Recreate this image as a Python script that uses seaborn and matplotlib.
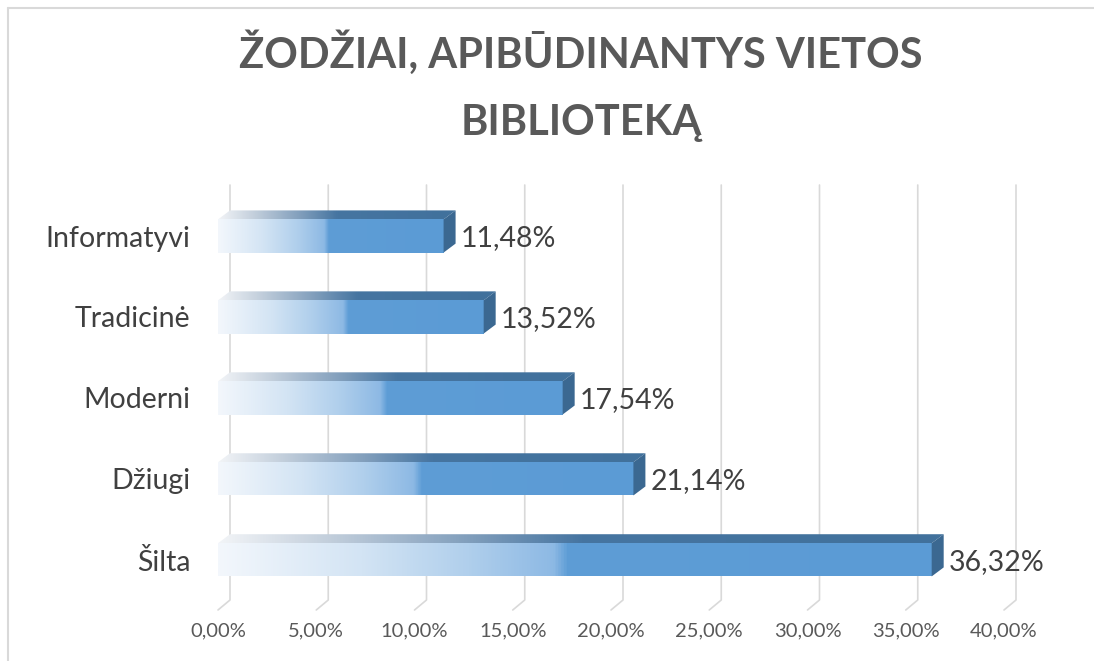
import numpy as np
import pandas as pd
import matplotlib
matplotlib.use("Agg")
import matplotlib.pyplot as plt
import seaborn as sns
from matplotlib.patches import Polygon
from matplotlib.lines import Line2D
from matplotlib.colors import LinearSegmentedColormap

categories = ["Informatyvi", "Tradicinė", "Moderni", "Džiugi", "Šilta"]
values = [11.48, 13.52, 17.54, 21.14, 36.32]
value_labels = ["11,48%", "13,52%", "17,54%", "21,14%", "36,32%"]
tick_values = [0, 5, 10, 15, 20, 25, 30, 35, 40]
tick_labels = ["0,00%", "5,00%", "10,00%", "15,00%", "20,00%", "25,00%", "30,00%", "35,00%", "40,00%"]
title_lines = ["ŽODŽIAI, APIBŪDINANTYS VIETOS", "BIBLIOTEKĄ"]

sns.set_theme(style="white")
plt.rcParams['font.family'] = ['Lato', 'DejaVu Sans']

W, H = 1094, 661
fig = plt.figure(figsize=(W / 100, H / 100), dpi=100)
ax_l, ax_r, ax_t, ax_b = 218, 1004, 185, 610
ax = fig.add_axes([ax_l / W, (H - ax_b) / H, (ax_r - ax_l) / W, (ax_b - ax_t) / H])

df = pd.DataFrame({"cat": categories, "val": values})
sns.barplot(data=df, x="val", y="cat", orient="h", color="#5B9BD5",
            width=0.41, saturation=1, ax=ax, zorder=3)
xmin, xmax = 0, 40
ymin, ymax = -0.63, 4.62
ax.set_xlim(xmin, xmax)
ax.set_ylim(ymax, ymin)

ppx = (ax_r - ax_l) / (xmax - xmin)
ppy = (ax_b - ax_t) / (ymax - ymin)
dx = 12 / ppx
dy = 9 / ppy

# back-wall gridlines with floor foot
for t in tick_values:
    ax.plot([t + dx, t + dx, t], [ymin, ymax - 10 / ppy, ymax], color="#D9D9D9",
            lw=1.2, zorder=1, clip_on=False)

front_cmap = LinearSegmentedColormap.from_list("front", [
    (0.0, "#F3F7FC"), (0.2, "#D3E4F4"), (0.35, "#B0CFEC"), (0.47, "#8DB9E4"),
    (0.49, "#5E9DD6"), (1.0, "#5B9BD5")])
top_cmap = LinearSegmentedColormap.from_list("top", [
    (0.0, "#F2F4F7"), (0.15, "#C3CFDC"), (0.35, "#7F9DBB"), (0.5, "#4675A1"), (1.0, "#41719C")])
side_color = "#3B6891"
grad = np.linspace(0, 1, 512).reshape(1, -1)

bars = list(ax.patches)
for p, lab in zip(bars, value_labels):
    x0, y0, w, h = p.get_x(), p.get_y(), p.get_width(), p.get_height()
    p.set_facecolor("none")
    p.set_edgecolor("none")
    im = ax.imshow(grad, cmap=front_cmap, aspect="auto", extent=(x0, x0 + w, y0 + h, y0),
                   zorder=3, interpolation="bilinear")
    im.set_clip_path(p)
    top = Polygon([(x0, y0), (x0 + dx, y0 - dy), (x0 + w + dx, y0 - dy), (x0 + w, y0)],
                  closed=True, facecolor="none", edgecolor="none", zorder=3, clip_on=False)
    ax.add_patch(top)
    im2 = ax.imshow(grad, cmap=top_cmap, aspect="auto",
                    extent=(x0, x0 + w + dx, y0, y0 - dy), zorder=3, interpolation="bilinear")
    im2.set_clip_path(top)
    side = Polygon([(x0 + w, y0), (x0 + w + dx, y0 - dy), (x0 + w + dx, y0 + h - dy), (x0 + w, y0 + h)],
                   closed=True, facecolor=side_color, edgecolor="none", zorder=4, clip_on=False)
    ax.add_patch(side)
    ax.text(x0 + w + dx + 5 / ppx, y0 + h / 2 + 2 / ppy, lab, ha="left", va="center",
            fontsize=20.5, color="#404040", zorder=5)

ax.set_xlim(xmin, xmax)
ax.set_ylim(ymax, ymin)
ax.set_xticks(tick_values)
ax.set_xticklabels(tick_labels, fontsize=14.5, color="#595959")
ax.set_yticks(range(len(categories)))
ax.set_yticklabels(categories, fontsize=20.5, color="#404040")
ax.tick_params(axis="x", length=0, pad=9)
ax.tick_params(axis="y", length=0, pad=20)
ax.set_xlabel("")
ax.set_ylabel("")
for s in ax.spines.values():
    s.set_visible(False)
ax.patch.set_alpha(0)

for line, base in zip(title_lines, [68, 135]):
    fig.text(581 / W, 1 - base / H, line, ha="center", va="baseline", fontsize=30,
             fontweight="bold", color="#595959")

fig.add_artist(Line2D([8 / W, 8 / W], [0, 1 - 8 / H], color="#D9D9D9", lw=1.5))
fig.add_artist(Line2D([8 / W, 1], [1 - 8 / H, 1 - 8 / H], color="#D9D9D9", lw=1.5))

fig.savefig("out.png", dpi=100)
